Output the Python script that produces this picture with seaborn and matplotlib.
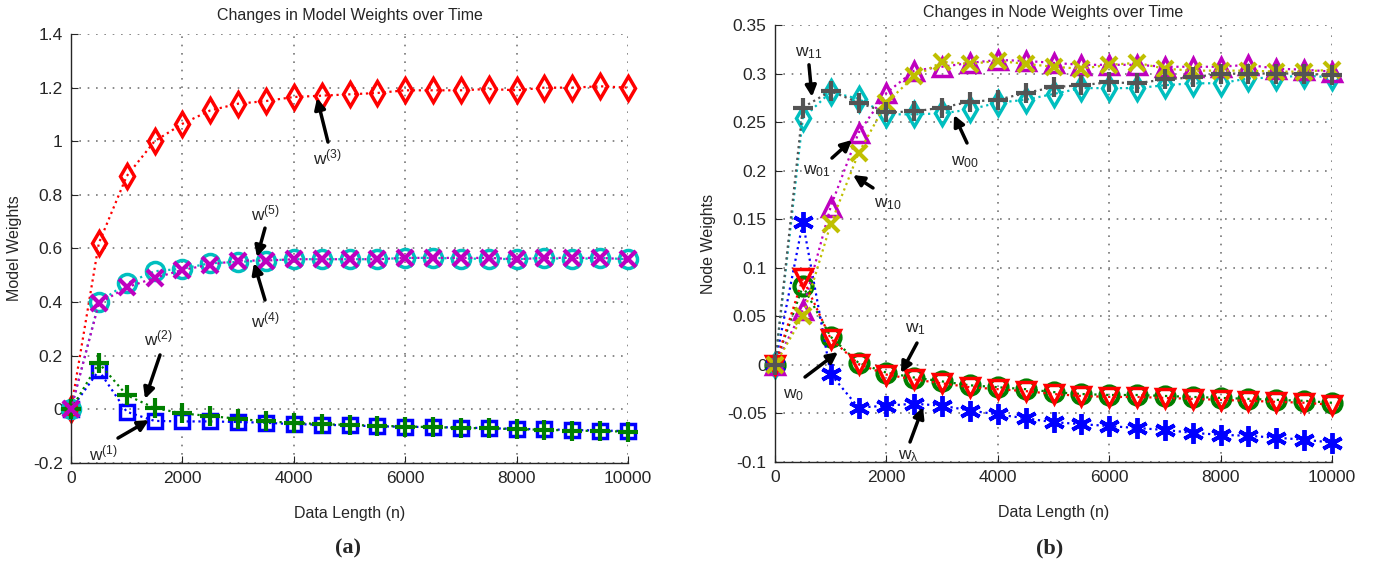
import numpy as np
import pandas as pd
import matplotlib
matplotlib.use("Agg")
import matplotlib.pyplot as plt
import seaborn as sns

# data lengths (x axis, both panels)
n = np.arange(0, 10001, 500)

# ---- panel (a): model weights ----
w1 = [0, 0.145, -0.009, -0.043, -0.045, -0.045, -0.047, -0.05, -0.055, -0.057, -0.06,
      -0.063, -0.065, -0.066, -0.068, -0.07, -0.073, -0.074, -0.077, -0.079, -0.081]
w2 = [0, 0.173, 0.053, 0.005, -0.015, -0.025, -0.035, -0.045, -0.05, -0.055, -0.058,
      -0.061, -0.064, -0.066, -0.069, -0.071, -0.074, -0.076, -0.079, -0.081, -0.083]
w3 = [0, 0.62, 0.87, 1.0, 1.065, 1.115, 1.14, 1.15, 1.165, 1.17, 1.175,
      1.18, 1.19, 1.19, 1.19, 1.195, 1.19, 1.2, 1.2, 1.205, 1.2]
w4 = [0, 0.40, 0.47, 0.515, 0.525, 0.545, 0.55, 0.555, 0.56, 0.56, 0.56,
      0.56, 0.565, 0.565, 0.562, 0.562, 0.56, 0.565, 0.56, 0.565, 0.56]
w5 = [0, 0.395, 0.455, 0.49, 0.52, 0.54, 0.555, 0.555, 0.56, 0.56, 0.56,
      0.56, 0.565, 0.565, 0.565, 0.565, 0.56, 0.565, 0.565, 0.565, 0.56]

# ---- panel (b): node weights ----
w_0 = [0, 0.081, 0.029, 0.002, -0.008, -0.013, -0.017, -0.021, -0.023, -0.025, -0.028,
       -0.030, -0.031, -0.031, -0.032, -0.033, -0.034, -0.035, -0.036, -0.037, -0.039]
w_1 = [0, 0.089, 0.027, 0.001, -0.010, -0.015, -0.019, -0.023, -0.025, -0.027, -0.030,
       -0.032, -0.033, -0.033, -0.034, -0.035, -0.036, -0.037, -0.038, -0.039, -0.041]
w_lam = [0, 0.147, -0.0095, -0.044, -0.042, -0.040, -0.042, -0.047, -0.051, -0.055, -0.059,
         -0.061, -0.063, -0.065, -0.067, -0.070, -0.072, -0.073, -0.075, -0.077, -0.080]
w_00 = [0, 0.254, 0.281, 0.274, 0.258, 0.258, 0.259, 0.263, 0.270, 0.273, 0.279,
        0.285, 0.285, 0.285, 0.288, 0.290, 0.290, 0.295, 0.296, 0.298, 0.296]
w_01 = [0, 0.057, 0.163, 0.239, 0.280, 0.303, 0.307, 0.311, 0.314, 0.313, 0.311,
        0.309, 0.309, 0.309, 0.307, 0.307, 0.307, 0.309, 0.305, 0.304, 0.302]
w_10 = [0, 0.050, 0.145, 0.218, 0.270, 0.297, 0.312, 0.310, 0.313, 0.310, 0.307,
        0.305, 0.309, 0.311, 0.305, 0.303, 0.303, 0.303, 0.302, 0.302, 0.304]
w_11 = [0, 0.265, 0.282, 0.270, 0.260, 0.261, 0.265, 0.271, 0.273, 0.280, 0.286,
        0.288, 0.291, 0.290, 0.294, 0.296, 0.300, 0.300, 0.300, 0.300, 0.298]

sns.set_style("ticks")
plt.rcParams['font.family'] = ['Liberation Sans', 'DejaVu Sans']
plt.rcParams['mathtext.fontset'] = 'custom'
plt.rcParams['mathtext.rm'] = 'Liberation Sans'

# MATLAB-like colours
BLUE = (0, 0, 1)
GREEN = (0, 0.5, 0)
RED = (1, 0, 0)
CYAN = (0, 0.75, 0.75)
MAG = (0.75, 0, 0.75)
YEL = (0.75, 0.75, 0)
GRAY = (0.33, 0.33, 0.33)

fig = plt.figure(figsize=(13.78, 5.65), dpi=100)
ax1 = fig.add_axes([71 / 1378, 1 - 463 / 565, 557 / 1378, 429 / 565])
ax2 = fig.add_axes([775 / 1378, 1 - 462 / 565, 557 / 1378, 437 / 565])


def series(ax, y, color, marker, ms=11, mew=2.5, z=2):
    sns.lineplot(x=n, y=y, ax=ax, color=color, linestyle=':', linewidth=1.6,
                 marker=marker, markersize=ms, markeredgewidth=mew,
                 markerfacecolor='none', markeredgecolor=color, zorder=z,
                 clip_on=False)


series(ax1, w1, BLUE, 's', ms=10)
series(ax1, w2, GREEN, '+', ms=14, mew=3, z=3)
series(ax1, w3, RED, 'd', ms=12.5)
series(ax1, w4, CYAN, 'o', ms=13)
series(ax1, w5, MAG, 'x', ms=11, mew=3, z=3)

asterisk = (6, 2, 0)
series(ax2, w_0, GREEN, 'o', ms=13, mew=3)
series(ax2, w_1, RED, 'v', ms=13, z=3)
series(ax2, w_lam, BLUE, asterisk, ms=15, mew=2.8)
series(ax2, w_00, CYAN, 'd', ms=12.5)
series(ax2, w_01, MAG, '^', ms=13)
series(ax2, w_10, YEL, 'x', ms=11, mew=3, z=3)
series(ax2, w_11, GRAY, '+', ms=15, mew=3, z=3)


def style_axes(ax, yticks, ylabels, ylim, title, ylabel, title_pad):
    ax.set_xlim(0, 10000)
    ax.set_ylim(*ylim)
    ax.set_xticks(np.arange(0, 10001, 2000))
    ax.set_yticks(yticks)
    ax.set_yticklabels(ylabels)
    ax.tick_params(direction='in', length=5, labelsize=12.5, pad=6)
    ax.grid(True, linestyle=(0, (1, 4)), color='#777777', linewidth=1.2)
    ax.set_axisbelow(True)
    for s in ['top', 'right']:
        ax.spines[s].set_visible(False)
    for s in ['left', 'bottom']:
        ax.spines[s].set_linewidth(1.0)
    ax.set_title(title, fontsize=11.5, pad=title_pad)
    ax.set_xlabel('Data Length (n)', fontsize=11.5, labelpad=14)
    ax.set_ylabel(ylabel, fontsize=11.5, labelpad=8)


style_axes(ax1, np.arange(-0.2, 1.41, 0.2),
           ['-0.2', '0', '0.2', '0.4', '0.6', '0.8', '1', '1.2', '1.4'],
           (-0.2, 1.4), 'Changes in Model Weights over Time', 'Model Weights', 10)
style_axes(ax2, np.arange(-0.1, 0.351, 0.05),
           ['-0.1', '-0.05', '0', '0.05', '0.1', '0.15', '0.2', '0.25', '0.3', '0.35'],
           (-0.1, 0.35), 'Changes in Node Weights over Time', 'Node Weights', 6)

arrow = dict(arrowstyle='-|>', color='k', lw=2.5, mutation_scale=16, shrinkA=0, shrinkB=0)


def label(ax, text, text_xy, tail, head):
    ax.text(*text_xy, text, fontsize=12.5, ha='center', va='center')
    ax.annotate('', xy=head, xytext=tail, arrowprops=arrow)


label(ax1, r'$\mathregular{w^{(3)}}$', (4600, 0.94), (4614, 0.997), (4417, 1.161))
label(ax1, r'$\mathregular{w^{(5)}}$', (3483, 0.73), (3483, 0.676), (3339, 0.568))
label(ax1, r'$\mathregular{w^{(4)}}$', (3483, 0.33), (3483, 0.408), (3285, 0.546))
label(ax1, r'$\mathregular{w^{(2)}}$', (1562, 0.265), (1598, 0.203), (1329, 0.039))
label(ax1, r'$\mathregular{w^{(1)}}$', (574, -0.165), (844, -0.107), (1400, -0.04))

label(ax2, r'$\mathregular{w_{11}}$', (610, 0.321), (610, 0.309), (664, 0.276))
label(ax2, r'$\mathregular{w_{00}}$', (3411, 0.209), (3447, 0.2285), (3214, 0.2573))
label(ax2, r'$\mathregular{w_{01}}$', (754, 0.199), (1023, 0.213), (1382, 0.2316))
label(ax2, r'$\mathregular{w_{10}}$', (2029, 0.166), (1759, 0.1822), (1400, 0.1955))
label(ax2, r'$\mathregular{w_1}$', (2513, 0.037), (2549, 0.0225), (2262, -0.0084))
label(ax2, r'$\mathregular{w_0}$', (341, -0.031), (539, -0.0125), (1131, 0.0132))
label(ax2, r'$\mathregular{w_\lambda}$', (2388, -0.094), (2424, -0.0794), (2657, -0.0434))

fig.text(348 / 1378, 1 - 548 / 565, '(a)', fontsize=16, fontweight='bold',
         family='Liberation Serif', ha='center', va='center')
fig.text(1050 / 1378, 1 - 548 / 565, '(b)', fontsize=16, fontweight='bold',
         family='Liberation Serif', ha='center', va='center')

fig.savefig('out.png', dpi=100)
